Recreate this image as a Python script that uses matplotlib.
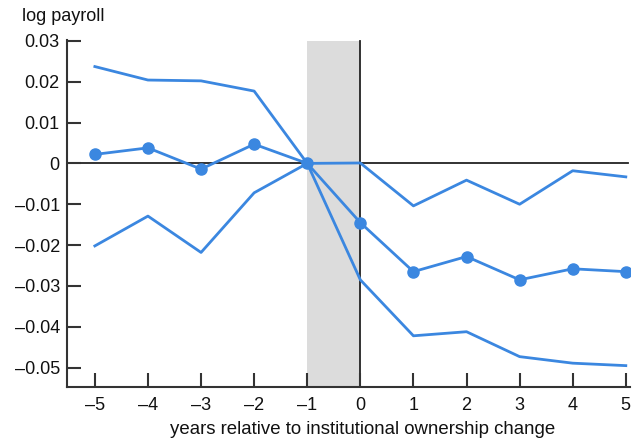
import matplotlib
matplotlib.use("Agg")
import matplotlib.pyplot as plt
from matplotlib.ticker import FuncFormatter

plt.rcParams["font.family"] = ["Liberation Sans", "DejaVu Sans"]

years = [-5, -4, -3, -2, -1, 0, 1, 2, 3, 4, 5]
estimate = [0.0022, 0.0038, -0.0014, 0.0047, 0.0, -0.0145, -0.0265, -0.0228, -0.0285, -0.0258, -0.0265]
upper = [0.0237, 0.0204, 0.0202, 0.0177, 0.0, 0.0001, -0.0104, -0.0041, -0.0100, -0.0018, -0.0033]
lower = [-0.0202, -0.0129, -0.0218, -0.0072, 0.0, -0.0285, -0.0422, -0.0412, -0.0473, -0.0489, -0.0495]
yticks = [0.03, 0.02, 0.01, 0, -0.01, -0.02, -0.03, -0.04, -0.05]

blue = "#3b87e0"
dark = "#333333"

fig = plt.figure(figsize=(6.39, 4.42), dpi=100)
ax = fig.add_axes([0.1044, 0.1238, 0.8816, 0.7857])

# event window shading and reference lines
top_frac = (0.03 + 0.0548) / (0.0302 + 0.0548)
ax.axvspan(-1, 0, ymin=0, ymax=top_frac, color="#dcdcdc", lw=0, zorder=0)
ax.axhline(0, color="#222222", lw=1.3, zorder=1, xmax=(5.05 + 5.53) / (5.08 + 5.53))
ax.axvline(0, ymax=top_frac, color="#222222", lw=1.3, zorder=1)

ax.plot(years, upper, color=blue, lw=2, zorder=2)
ax.plot(years, lower, color=blue, lw=2, zorder=2)
ax.plot(years, estimate, color=blue, lw=2, marker="o", markersize=8, zorder=3)

ax.set_xlim(-5.53, 5.08)
ax.set_ylim(-0.0548, 0.0302)
ax.set_xticks(years)
ax.set_yticks(yticks)


def fmt_x(v, pos):
    return f"{int(v)}".replace("-", "\u2013")


def fmt_y(v, pos):
    if abs(v) < 1e-9:
        return "0"
    return f"{v:.2f}".replace("-", "\u2013")


ax.xaxis.set_major_formatter(FuncFormatter(fmt_x))
ax.yaxis.set_major_formatter(FuncFormatter(fmt_y))
ax.tick_params(direction="in", length=10, width=1.5, color=dark, labelsize=13, labelcolor="#111111")
ax.tick_params(axis="x", pad=7)
ax.tick_params(axis="y", pad=5)

for side in ["top", "right"]:
    ax.spines[side].set_visible(False)
for side in ["left", "bottom"]:
    ax.spines[side].set_color(dark)
    ax.spines[side].set_linewidth(1.5)

fig.text(0.034, 0.962, "log payroll", fontsize=13, color="#111111", va="center")
ax.set_xlabel("years relative to institutional ownership change", fontsize=13.4, color="#111111")
ax.xaxis.set_label_coords(0.526, -0.097)

fig.savefig("out.png", dpi=100)
